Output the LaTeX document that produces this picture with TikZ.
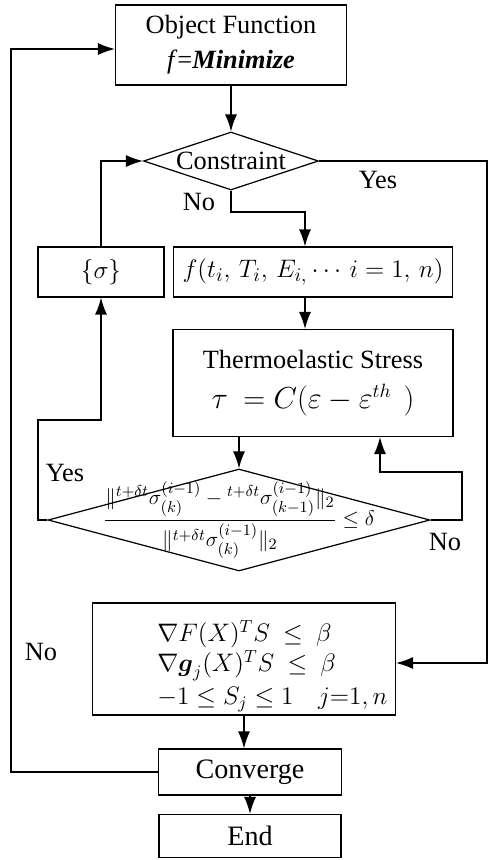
\documentclass[tikz,border=0pt]{standalone}
\usepackage{amsmath,amssymb}
\usepackage{fontspec}
\setmainfont{Liberation Serif}
\usetikzlibrary{arrows.meta, positioning, shapes.geometric}
\tikzset{
  box/.style={rectangle,draw,align=center,inner sep=2pt,line width=0.7pt},
  decision/.style={diamond,draw,inner sep=0pt,line width=0.7pt},
  lbl/.style={inner sep=1pt},
  line/.style={-{Latex[length=3.4mm,width=2.4mm]},line width=0.7pt}
}

\begin{document}
\begin{tikzpicture}[x=0.02cm, y=-0.02cm, font=\fontsize{15}{17}\selectfont]
\useasboundingbox (0,0) rectangle (492,860);
\node[box, minimum width=4.62cm, minimum height=1.6cm] (obj) at (231,45) {Object Function\\[3pt] \textit{f}=\textbf{\textit{Minimize}}};
\node[decision, minimum width=3.5cm, minimum height=1.16cm, label={[name=constxt]center:Constraint}] (cons) at (231,161) {};
\node[box, minimum width=2.52cm, minimum height=1cm] (sig) at (101,272) {$\{\sigma\}$};
\node[box, minimum width=5.58cm, minimum height=1cm, font=\fontsize{15}{17}\selectfont] (fun) at (313,272) {$f(t_i,\,T_i,\,E_{i,}\cdots\,i=1,\,n)$};
\node[box, minimum width=5.6cm, minimum height=2.14cm] (thermo) at (313,383) {Thermoelastic Stress\\[6pt] {\fontsize{16}{18}\selectfont$\tau\ =C(\varepsilon-\varepsilon^{th}\ \,)$}};
\node[decision, minimum width=7.64cm, minimum height=2.04cm,
  label={[name=convtxt, font=\fontsize{13}{15}\selectfont]center:{$\dfrac{\|{}^{t+\delta t}\sigma^{(i-1)}_{(k)}-{}^{t+\delta t}\sigma^{(i-1)}_{(k-1)}\|_2}{\|{}^{t+\delta t}\sigma^{(i-1)}_{(k)}\|_2}\leq\delta$}}] (conv) at (239,520) {};
\node[box, minimum width=6.06cm, minimum height=2.24cm] (dir) at (244,659) {};
\node[anchor=west, align=left, inner sep=0pt, font=\fontsize{14}{16}\selectfont] (dirtxt) at (157,666)
  {$\nabla F(X)^T S\ \leq\ \beta$\\[1pt] $\nabla \boldsymbol{g}_j(X)^T S\ \leq\ \beta$\\[3pt] $-1\leq S_j\leq 1\quad j{=}1,n$};
\node[box, minimum width=3.66cm, minimum height=0.92cm, font=\fontsize{16}{18}\selectfont] (converge) at (250,772) {Converge};
\node[box, minimum width=3.64cm, minimum height=0.86cm, font=\fontsize{16}{18}\selectfont] (end) at (250,836) {End};

\node[lbl] (yes1) at (378,180) {Yes};
\node[lbl] (no1) at (199,202) {No};
\node[lbl] (yes2) at (65,473) {Yes};
\node[lbl] (no2) at (445,542) {No};
\node[lbl] (no3) at (41,652) {No};

\coordinate (nj) at (305,212);
\coordinate (nr) at (462,472);
\coordinate (nb) at (380,472);
\coordinate (ys) at (38,420);
\coordinate (yr) at (487,663);
\coordinate (nl) at (11,49);

\draw[line] (obj.south) -- (cons.north);
\draw[line] (cons.south) |- (nj) -- (nj |- fun.north);
\draw[line] (fun.south -| nj) -- (thermo.north -| nj);
\draw[line] (thermo.south -| conv.north) -- (conv.north);
\draw[line] (conv.east) -| (nr) -- (nb) -- (nb |- thermo.south);
\draw[line] (conv.west) -| (ys) -| (sig.south);
\draw[line] (sig.north) |- (cons.west);
\draw[line] (cons.east) -| (yr) -- (yr -| dir.east);
\draw[line] (dir.south) -- (dir.south |- converge.north);
\draw[line] (converge.south) -- (end.north);
\draw[line] (converge.west) -| (nl) -- (nl -| obj.west);
\end{tikzpicture}
\end{document}
